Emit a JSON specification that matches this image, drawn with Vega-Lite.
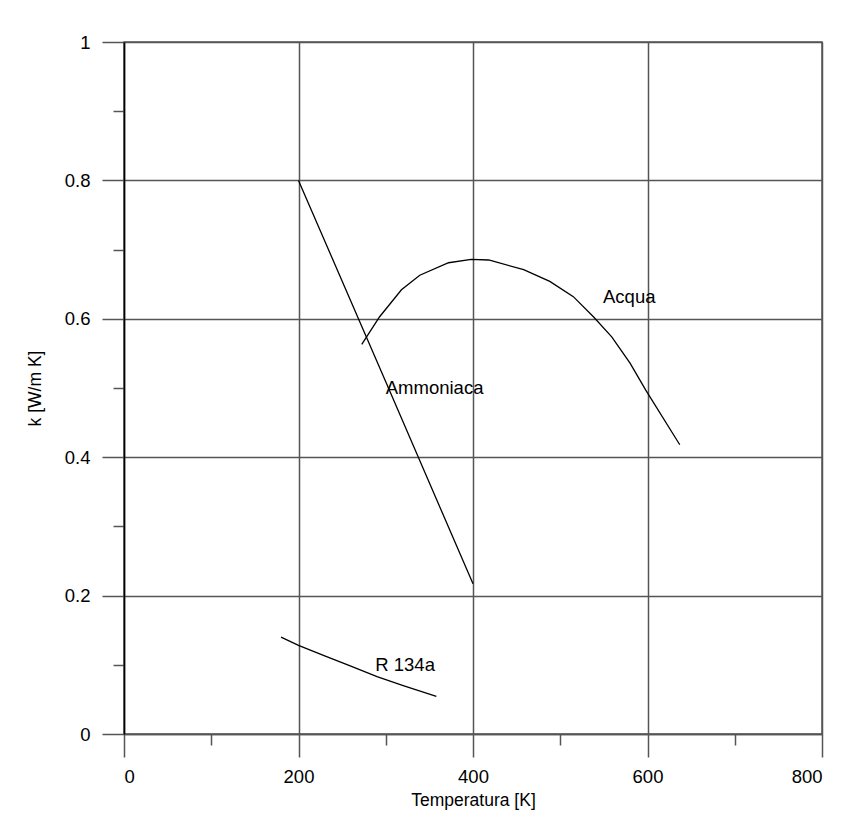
{
  "$schema": "https://vega.github.io/schema/vega-lite/v6.json",
  "autosize": {"type": "none"},
  "padding": {"left": 124, "top": 42, "right": 24, "bottom": 95},
  "width": 698,
  "height": 692,
  "background": "white",
  "config": {
    "view": {"stroke": "#555", "strokeWidth": 1.5},
    "font": "Liberation Sans",
    "axis": {
      "labelFont": "Liberation Sans",
      "labelFontSize": 18.5,
      "labelColor": "black",
      "titleFont": "Liberation Sans",
      "titleFontSize": 17.5,
      "titleFontWeight": "normal",
      "titleColor": "black",
      "tickColor": "#555",
      "tickWidth": 1.5,
      "gridColor": "#555",
      "gridWidth": 1.5
    }
  },
  "datasets": {
    "curves": [
      {"series": "Ammoniaca", "T": 200, "k": 0.8},
      {"series": "Ammoniaca", "T": 300, "k": 0.509},
      {"series": "Ammoniaca", "T": 400, "k": 0.217},
      {"series": "Acqua", "T": 272.5, "k": 0.563},
      {"series": "Acqua", "T": 293, "k": 0.603},
      {"series": "Acqua", "T": 318, "k": 0.642},
      {"series": "Acqua", "T": 339, "k": 0.663},
      {"series": "Acqua", "T": 372, "k": 0.681},
      {"series": "Acqua", "T": 398, "k": 0.686},
      {"series": "Acqua", "T": 418, "k": 0.685},
      {"series": "Acqua", "T": 458, "k": 0.671},
      {"series": "Acqua", "T": 488, "k": 0.654},
      {"series": "Acqua", "T": 515, "k": 0.632},
      {"series": "Acqua", "T": 538, "k": 0.603},
      {"series": "Acqua", "T": 559, "k": 0.574},
      {"series": "Acqua", "T": 580, "k": 0.536},
      {"series": "Acqua", "T": 598, "k": 0.497},
      {"series": "Acqua", "T": 637, "k": 0.418},
      {"series": "R 134a", "T": 180, "k": 0.14},
      {"series": "R 134a", "T": 200, "k": 0.128},
      {"series": "R 134a", "T": 230, "k": 0.113},
      {"series": "R 134a", "T": 260, "k": 0.098},
      {"series": "R 134a", "T": 290, "k": 0.083},
      {"series": "R 134a", "T": 320, "k": 0.07},
      {"series": "R 134a", "T": 358, "k": 0.0545}
    ],
    "labels": [
      {"label": "Acqua", "T": 549, "k": 0.623},
      {"label": "Ammoniaca", "T": 300, "k": 0.492},
      {"label": "R 134a", "T": 288, "k": 0.0915}
    ]
  },
  "layer": [
    {
      "data": {"name": "curves"},
      "mark": {"type": "line", "color": "black", "strokeWidth": 1.3},
      "encoding": {
        "x": {
          "field": "T",
          "type": "quantitative",
          "scale": {"domain": [0, 800], "nice": false, "zero": false},
          "axis": {
            "values": [0, 100, 200, 300, 400, 500, 600, 700, 800],
            "labelExpr": "datum.value % 200 === 0 ? datum.label : ''",
            "tickSize": {"condition": {"test": "datum.value % 200 === 0", "value": 23}, "value": 11},
            "gridOpacity": {"condition": {"test": "datum.value % 200 === 0", "value": 1}, "value": 0},
            "domainColor": "#555",
            "domainWidth": 1.5,
            "labelPadding": 10,
            "title": "Temperatura [K]",
            "titlePadding": 6
          }
        },
        "y": {
          "field": "k",
          "type": "quantitative",
          "scale": {"domain": [0, 1], "nice": false},
          "axis": {
            "values": [0, 0.1, 0.2, 0.3, 0.4, 0.5, 0.6, 0.7, 0.8, 0.9, 1],
            "format": "~g",
            "labelExpr": "round(datum.value * 10) % 2 === 0 ? datum.label : ''",
            "tickSize": {"condition": {"test": "round(datum.value * 10) % 2 === 0", "value": 22}, "value": 11},
            "gridOpacity": {"condition": {"test": "round(datum.value * 10) % 2 === 0", "value": 1}, "value": 0},
            "domainColor": "black",
            "domainWidth": 1.5,
            "labelPadding": 12,
            "title": "k [W/m K]",
            "titlePadding": 20
          }
        },
        "detail": {"field": "series"}
      }
    },
    {
      "data": {"name": "labels"},
      "mark": {"type": "text", "align": "left", "baseline": "alphabetic", "fontSize": 18.5, "color": "black", "font": "Liberation Sans"},
      "encoding": {
        "x": {"field": "T", "type": "quantitative"},
        "y": {"field": "k", "type": "quantitative"},
        "text": {"field": "label"}
      }
    }
  ]
}
